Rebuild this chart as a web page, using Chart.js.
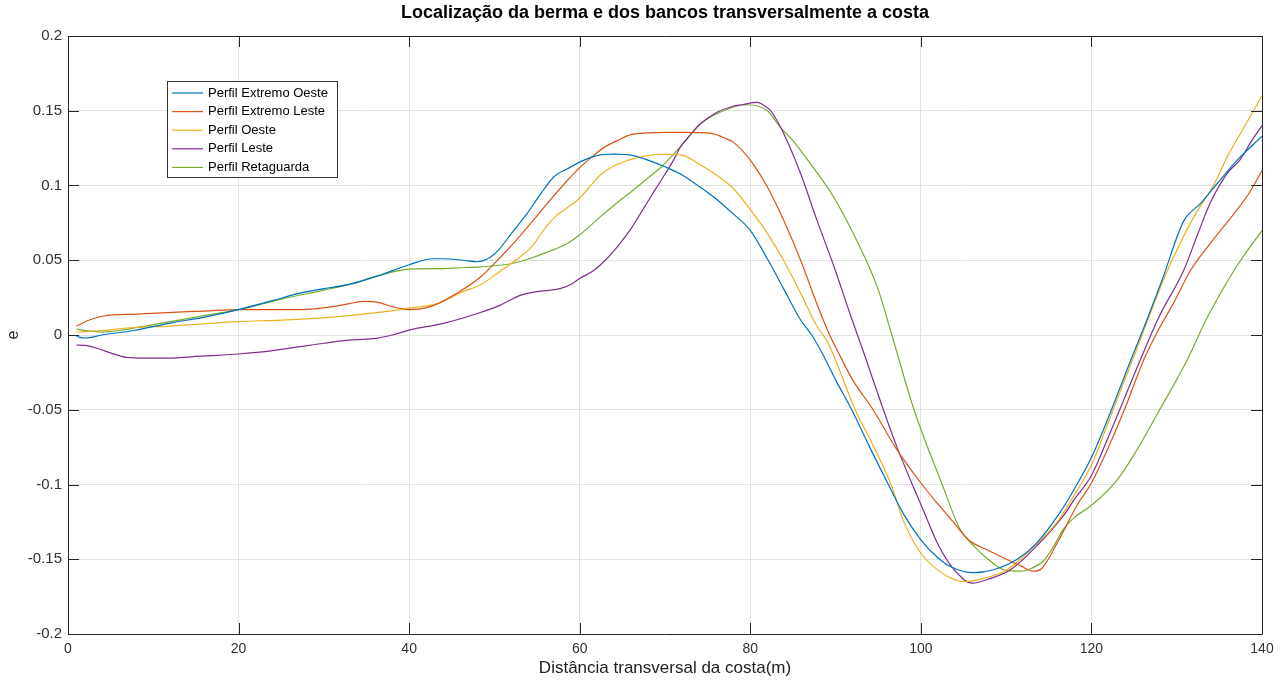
<!DOCTYPE html>
<html>
<head>
<meta charset="utf-8">
<script src="https://cdn.jsdelivr.net/npm/chart.js@4"></script>
<style>
  body { margin: 0; background: #fff; }
  canvas { display: block; }
</style>
</head>
<body>
<canvas id="grafico" width="1283" height="682"></canvas>
<script>
// perfis (x em m, y = e)
const extOesteX = [1, 2, 4, 7.7, 12, 16, 20, 24, 27.2, 30, 33.1, 36.6, 40, 42.8, 44, 46.3, 48, 49.5, 50.5, 52, 53.8, 55.5, 57, 58.5, 60.1, 62, 64, 66.3, 68, 70.2, 72, 74.1, 76, 78, 80, 82, 83.9, 85.9, 87.2, 88.6, 90, 91.9, 94, 96.2, 98, 100, 102, 103.5, 106.2, 108.5, 111.3, 113.6, 116.4, 118, 120, 122, 124.6, 126.5, 128.3, 130.8, 132.8, 134.7, 137.1, 140];
const extOesteY = [-0.001, -0.002, 0.0, 0.003, 0.008, 0.012, 0.017, 0.023, 0.028, 0.031, 0.034, 0.04, 0.047, 0.051, 0.051, 0.05, 0.049, 0.052, 0.057, 0.068, 0.081, 0.095, 0.106, 0.111, 0.116, 0.12, 0.121, 0.12, 0.117, 0.112, 0.107, 0.099, 0.091, 0.081, 0.07, 0.051, 0.031, 0.01, 0.0, -0.014, -0.03, -0.05, -0.075, -0.1, -0.12, -0.137, -0.149, -0.155, -0.159, -0.157, -0.15, -0.139, -0.118, -0.103, -0.082, -0.055, -0.017, 0.01, 0.037, 0.076, 0.088, 0.101, 0.117, 0.133];

const extLesteX = [1, 2.5, 4.2, 8, 11.6, 16, 20, 24, 27.2, 31.1, 33, 34.7, 36.2, 38, 40, 42.5, 45.6, 48.4, 50.7, 52.5, 54.6, 56.5, 58.5, 60, 61.6, 63, 64.4, 66, 67.5, 70, 72.2, 75.3, 77.3, 78, 80, 82, 83.9, 85.9, 87.8, 89.3, 90, 92, 94.4, 97, 100, 102, 103.5, 105.8, 107.5, 109.3, 111.7, 113.2, 114.2, 116, 118.3, 120, 122, 124, 126.1, 128, 129.5, 131.6, 133.9, 136.7, 138.5, 140];
const extLesteY = [0.006, 0.01, 0.0127, 0.014, 0.015, 0.016, 0.017, 0.017, 0.017, 0.019, 0.021, 0.0225, 0.022, 0.019, 0.017, 0.019, 0.028, 0.039, 0.052, 0.063, 0.077, 0.09, 0.103, 0.112, 0.12, 0.126, 0.13, 0.134, 0.135, 0.1356, 0.1356, 0.135, 0.131, 0.129, 0.117, 0.099, 0.077, 0.05, 0.021, 0.0, -0.008, -0.03, -0.05, -0.075, -0.099, -0.113, -0.123, -0.138, -0.143, -0.148, -0.1544, -0.158, -0.156, -0.139, -0.114, -0.099, -0.075, -0.048, -0.017, 0.005, 0.02, 0.043, 0.061, 0.081, 0.095, 0.11];

const oesteX = [1, 4, 7.7, 12, 20, 25, 31, 36.2, 40, 43.3, 46.3, 48.5, 50.5, 52.5, 54.5, 56, 57.3, 58.5, 59.7, 61, 62.4, 64, 66.3, 68, 70, 72.2, 74.1, 76, 78, 80, 82, 83.9, 85.9, 87.8, 89, 89.8, 92.3, 94.5, 96.5, 98, 100, 102.7, 105, 107.3, 110.1, 112.8, 116, 118, 120, 122, 124.8, 126.8, 128.9, 132, 134.3, 136, 138, 140];
const oesteY = [0.002, 0.003, 0.005, 0.006, 0.009, 0.01, 0.012, 0.015, 0.018, 0.021, 0.029, 0.034, 0.042, 0.05, 0.06, 0.072, 0.08, 0.085, 0.09, 0.098, 0.107, 0.113, 0.118, 0.12, 0.121, 0.12, 0.114, 0.107, 0.098, 0.084, 0.068, 0.05, 0.028, 0.006, -0.004, -0.014, -0.05, -0.075, -0.1, -0.125, -0.146, -0.16, -0.165, -0.163, -0.157, -0.144, -0.125, -0.107, -0.087, -0.058, -0.017, 0.013, 0.043, 0.079, 0.1, 0.12, 0.14, 0.16];

const lesteX = [1, 2, 3.5, 5, 6.9, 9, 11.6, 16, 20, 24, 27.2, 30, 33.1, 36.2, 38, 40, 44, 48, 50.7, 53.1, 55, 57.7, 59, 60, 61.6, 63, 64.4, 66, 67.1, 68.5, 69.5, 71, 71.8, 73, 74.1, 76.1, 78, 79, 80.8, 82, 82.4, 83.9, 85.9, 87.8, 89.8, 91.7, 93.5, 95.3, 97.2, 99, 100.5, 102, 103.9, 106, 108.1, 110.5, 113.6, 116.7, 118, 120, 122, 125.7, 128, 130.8, 132.5, 133.9, 135.9, 137.4, 138.8, 140];
const lesteY = [-0.0067, -0.007, -0.009, -0.012, -0.015, -0.0155, -0.0155, -0.014, -0.0127, -0.0105, -0.0078, -0.0055, -0.0033, -0.0022, 0.0, 0.0033, 0.0078, 0.0144, 0.02, 0.0267, 0.029, 0.031, 0.034, 0.0378, 0.043, 0.05, 0.059, 0.071, 0.081, 0.094, 0.103, 0.117, 0.1256, 0.134, 0.141, 0.149, 0.153, 0.154, 0.1556, 0.152, 0.15, 0.135, 0.108, 0.077, 0.046, 0.014, -0.015, -0.045, -0.075, -0.1, -0.12, -0.14, -0.157, -0.166, -0.163, -0.157, -0.141, -0.121, -0.11, -0.094, -0.068, -0.017, 0.013, 0.043, 0.068, 0.088, 0.108, 0.117, 0.13, 0.14];

const retaguardaX = [1, 2, 3.9, 6, 10, 15, 20, 25, 30, 33.1, 36.6, 40, 43.3, 46, 48.4, 52.2, 54.6, 56.2, 58.5, 60, 62.4, 64.5, 66.3, 68, 69.5, 71.8, 74.1, 77.3, 79.6, 82, 83.5, 85, 87, 89.8, 92.5, 94.9, 96.6, 99.2, 102.5, 104.6, 106.2, 108.1, 109.7, 111.7, 113, 114.4, 115.5, 116.7, 118, 119.9, 123, 125, 128, 131.2, 133.6, 136.7, 140];
const retaguardaY = [0.004, 0.003, 0.002, 0.003, 0.007, 0.012, 0.017, 0.024, 0.03, 0.034, 0.04, 0.044, 0.0444, 0.045, 0.0456, 0.048, 0.052, 0.0555, 0.061, 0.067, 0.079, 0.089, 0.097, 0.105, 0.112, 0.126, 0.141, 0.151, 0.154, 0.15, 0.139, 0.13, 0.115, 0.092, 0.063, 0.032, 0.0, -0.05, -0.1, -0.13, -0.141, -0.151, -0.157, -0.158, -0.156, -0.151, -0.142, -0.13, -0.122, -0.1144, -0.097, -0.08, -0.05, -0.017, 0.012, 0.043, 0.07];

const nomes = ['Perfil Extremo Oeste', 'Perfil Extremo Leste', 'Perfil Oeste', 'Perfil Leste', 'Perfil Retaguarda'];
const cores = ['#0072BD', '#D95319', '#EDB120', '#7E2F8E', '#77AC30'];
const xTicks = [0, 20, 40, 60, 80, 100, 120, 140];
const yTicks = [-0.2, -0.15, -0.1, -0.05, 0, 0.05, 0.1, 0.15, 0.2];
const titulo = 'Localização da berma e dos bancos transversalmente a costa';

const series = [
  [extOesteX, extOesteY],
  [extLesteX, extLesteY],
  [oesteX, oesteY],
  [lesteX, lesteY],
  [retaguardaX, retaguardaY]
];

const fonte = 'Liberation Sans, Arial, Helvetica, sans-serif';
const corEixo = '#262626';

// caixa do eixo estilo matlab + ticks para dentro + titulo + legenda
const matlabBox = {
  id: 'matlabBox',
  afterDatasetsDraw(chart) {
    const { ctx, chartArea: a, scales } = chart;
    const len = 11;
    ctx.save();
    ctx.strokeStyle = corEixo;
    ctx.lineWidth = 1;
    ctx.beginPath();
    ctx.rect(Math.round(a.left) + 0.5, Math.round(a.top) + 0.5, Math.round(a.right - a.left), Math.round(a.bottom - a.top));
    xTicks.forEach(v => {
      const px = Math.round(scales.x.getPixelForValue(v)) + 0.5;
      ctx.moveTo(px, a.bottom); ctx.lineTo(px, a.bottom - len);
      ctx.moveTo(px, a.top); ctx.lineTo(px, a.top + len);
    });
    yTicks.forEach(v => {
      const py = Math.round(scales.y.getPixelForValue(v)) + 0.5;
      ctx.moveTo(a.left, py); ctx.lineTo(a.left + len, py);
      ctx.moveTo(a.right, py); ctx.lineTo(a.right - len, py);
    });
    ctx.stroke();

    // titulo centrado na area do grafico (como no matlab)
    ctx.fillStyle = '#000';
    ctx.font = 'bold 18px ' + fonte;
    ctx.textAlign = 'center';
    ctx.textBaseline = 'middle';
    ctx.fillText(titulo, (a.left + a.right) / 2, 13);

    // legenda
    const lx = 167, ly = 81, lw = 170, lh = 96;
    ctx.fillStyle = '#fff';
    ctx.fillRect(lx, ly, lw, lh);
    ctx.strokeStyle = '#333';
    ctx.strokeRect(lx + 0.5, ly + 0.5, lw, lh);
    ctx.font = '13px ' + fonte;
    ctx.textAlign = 'left';
    chart.data.datasets.forEach((ds, i) => {
      const y = ly + 12 + i * 18.6;
      ctx.strokeStyle = ds.borderColor;
      ctx.lineWidth = 1.2;
      ctx.beginPath();
      ctx.moveTo(lx + 5, y); ctx.lineTo(lx + 36, y);
      ctx.stroke();
      ctx.fillStyle = '#000';
      ctx.fillText(ds.label, lx + 41, y);
    });
    ctx.restore();
  }
};

new Chart(document.getElementById('grafico'), {
  type: 'line',
  data: {
    datasets: series.map((s, i) => ({
      label: nomes[i],
      data: s[0].map((x, k) => ({ x: x, y: s[1][k] })),
      borderColor: cores[i],
      borderWidth: 1.2,
      pointRadius: 0,
      fill: false,
      cubicInterpolationMode: 'monotone'
    }))
  },
  options: {
    responsive: false,
    devicePixelRatio: 1,
    animation: false,
    layout: { padding: { left: 0, right: 21, top: 36, bottom: 0 } },
    plugins: {
      legend: { display: false },
      tooltip: { enabled: false },
      title: { display: false }
    },
    scales: {
      x: {
        type: 'linear',
        min: 0,
        max: 140,
        afterBuildTicks: sc => { sc.ticks = xTicks.map(v => ({ value: v })); },
        afterFit: sc => { sc.height = 48; },
        grid: { color: '#e3e3e3', drawTicks: false },
        border: { display: false },
        ticks: { color: '#333', padding: 7, maxRotation: 0, font: { family: fonte, size: 14 } },
        title: {
          display: true,
          text: 'Distância transversal da costa(m)',
          color: '#222',
          font: { family: fonte, size: 17 },
          padding: { top: 0, bottom: 3 }
        }
      },
      y: {
        min: -0.2,
        max: 0.2,
        afterBuildTicks: sc => { sc.ticks = yTicks.map(v => ({ value: v })); },
        afterFit: sc => { sc.width = 68; },
        grid: { color: '#e3e3e3', drawTicks: false },
        border: { display: false },
        ticks: {
          color: '#333',
          padding: 6,
          font: { family: fonte, size: 15 },
          callback: v => String(+v.toFixed(2))
        },
        title: {
          display: true,
          text: 'e',
          color: '#222',
          font: { family: fonte, size: 16 },
          padding: { top: 4, bottom: 0 }
        }
      }
    }
  },
  plugins: [matlabBox]
});
</script>
</body>
</html>
